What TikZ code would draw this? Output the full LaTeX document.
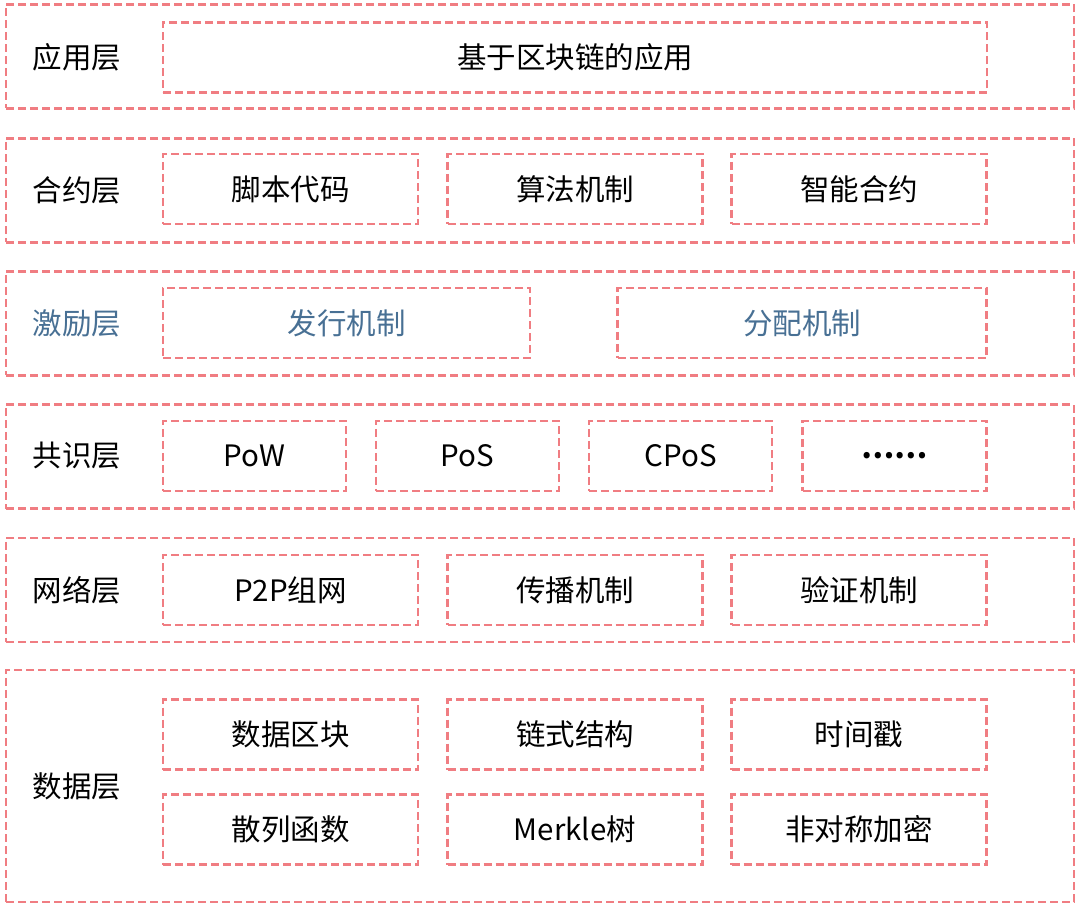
\documentclass[tikz,border=0pt]{standalone}
\usepackage{fontspec}
\setmainfont{Noto Sans CJK SC}
\definecolor{linea}{RGB}{240,125,130}
\definecolor{blu}{RGB}{72,112,148}
\begin{document}
\begin{tikzpicture}[x=1pt, y=-1pt,
  layer/.style={draw=linea, line width=2.8pt, dash pattern=on 8pt off 4pt, minimum width=1068pt, minimum height=104pt, inner sep=0pt},
  item/.style={draw=linea, line width=2.8pt, dash pattern=on 8pt off 4pt, minimum height=70pt, inner sep=0pt, font=\fontsize{29.5}{34}\selectfont},
  lab/.style={font=\fontsize{29.5}{34}\selectfont}]
\useasboundingbox (0,0) rectangle (1080,909);
% 应用层
\node[layer] (L1) at (540, 56.5) {};
\node[lab] (t1) at (77, 57) {应用层};
\node[item, minimum width=824pt] (a1) at (575, 57.5) {基于区块链的应用};
% 合约层
\node[layer] (L2) at (540, 190.5) {};
\node[lab] (t2) at (77, 190) {合约层};
\node[item, minimum width=255pt] (b1) at (290.5, 189) {脚本代码};
\node[item, minimum width=255pt] (b2) at (575, 189) {算法机制};
\node[item, minimum width=255pt] (b3) at (859, 189) {智能合约};
% 激励层
\node[layer] (L3) at (540, 323.5) {};
\node[lab, text=blu] (t3) at (77, 323) {激励层};
\node[item, text=blu, minimum width=367pt] (c1) at (346.5, 323) {发行机制};
\node[item, text=blu, minimum width=369pt] (c2) at (802, 323) {分配机制};
% 共识层
\node[layer] (L4) at (540, 456.5) {};
\node[lab] (t4) at (77, 456) {共识层};
\node[item, minimum width=183pt] (d1) at (254.5, 456) {PoW};
\node[item, minimum width=183pt] (d2) at (467.5, 456) {PoS};
\node[item, minimum width=183pt] (d3) at (680.5, 456) {CPoS};
\node[item, minimum width=184pt] (d4) at (894.5, 456) {\textbf{……}};
% 网络层
\node[layer] (L5) at (540, 590) {};
\node[lab] (t5) at (77, 590) {网络层};
\node[item, minimum width=255pt] (e1) at (290.5, 590) {P2P组网};
\node[item, minimum width=255pt] (e2) at (575, 590) {传播机制};
\node[item, minimum width=255pt] (e3) at (859, 590) {验证机制};
% 数据层
\node[layer, minimum height=232pt] (L6) at (540, 786) {};
\node[lab] (t6) at (77, 786) {数据层};
\node[item, minimum width=255pt] (f1) at (290.5, 734.5) {数据区块};
\node[item, minimum width=255pt] (f2) at (575, 734.5) {链式结构};
\node[item, minimum width=255pt] (f3) at (859, 734.5) {时间戳};
\node[item, minimum width=255pt] (f4) at (290.5, 829.5) {散列函数};
\node[item, minimum width=255pt] (f5) at (575, 829.5) {Merkle树};
\node[item, minimum width=255pt] (f6) at (859, 829.5) {非对称加密};
\end{tikzpicture}
\end{document}
